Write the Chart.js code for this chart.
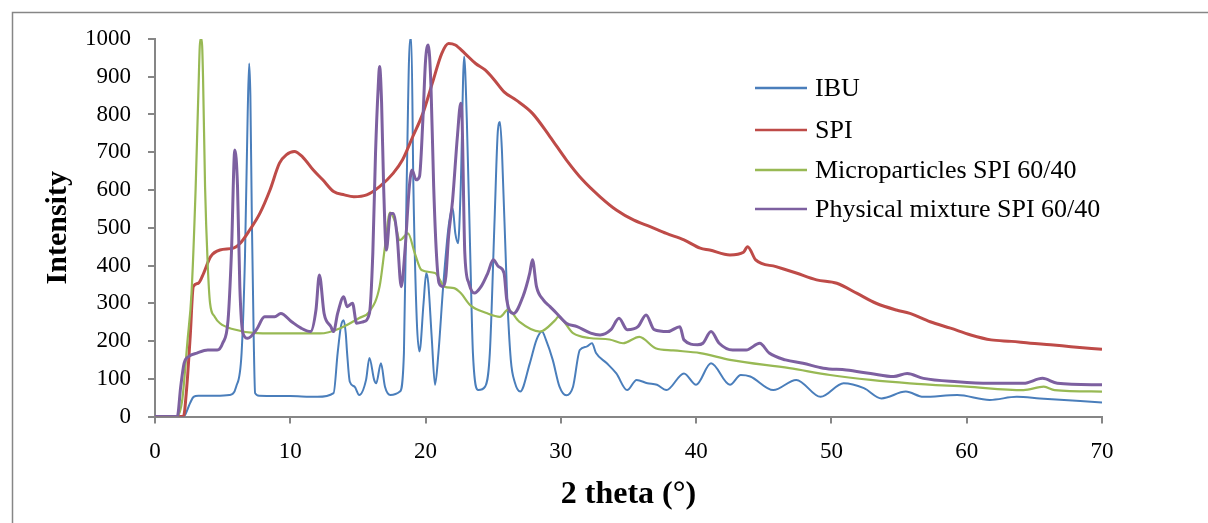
<!DOCTYPE html>
<html>
<head>
<meta charset="utf-8">
<title>XRD patterns</title>
<script src="https://cdn.jsdelivr.net/npm/chart.js@4.4.0/dist/chart.umd.min.js"></script>
<style>
	html, body { margin: 0; padding: 0; background: #fff; overflow: hidden; }
	#wrap { position: relative; width: 1208px; height: 523px; }
</style>
</head>
<body>
<div id="wrap"><canvas id="xrd"></canvas></div>
<script>
// Values (2 theta in degrees, intensity).
var ibuX = [ 0, 2.0, 2.2, 2.6, 2.85, 3.2, 4.5, 5.5, 6.0, 6.4, 6.65, 6.85, 6.96, 7.05, 7.16, 7.3, 7.4, 7.7, 10, 12, 13.2, 13.5, 13.75, 13.95, 14.1, 14.2, 14.4, 14.75, 15.1, 15.6, 15.85, 16.2, 16.35, 16.7, 17.0, 17.4, 18.1, 18.4, 18.6, 18.85, 18.95, 19.1, 19.35, 19.55, 19.85, 20.05, 20.2, 20.45, 20.7, 20.95, 21.3, 21.7, 22.0, 22.2, 22.4, 22.6, 22.85, 23.05, 23.3, 23.5, 23.9, 24.4, 24.75, 25.1, 25.35, 25.5, 25.65, 26.0, 26.3, 26.6, 27.0, 27.7, 28.2, 28.6, 28.9, 29.4, 29.9, 30.4, 30.9, 31.4, 31.9, 32.3, 32.6, 33.4, 34.1, 34.9, 35.6, 36.4, 37.1, 37.8, 39.1, 40.0, 41.1, 42.5, 43.3, 44.0, 45.7, 47.4, 49.2, 50.9, 52.4, 53.7, 55.5, 56.8, 59.3, 61.7, 63.7, 65.4, 70 ];
var ibuY = [ 0, 0, 3, 36, 52, 55, 55, 57, 79, 168, 421, 800, 935, 850, 520, 200, 62, 55, 54, 52, 62, 168, 240, 255, 220, 168, 92, 79, 57, 97, 155, 97, 88, 141, 79, 57, 66, 168, 609, 1000, 1000, 609, 255, 172, 300, 380, 353, 212, 84, 168, 344, 503, 552, 485, 459, 609, 953, 785, 433, 168, 70, 79, 168, 520, 760, 780, 700, 344, 150, 90, 66, 140, 203, 225, 203, 150, 79, 56, 79, 176, 185, 194, 168, 141, 114, 70, 97, 88, 84, 70, 114, 84, 141, 84, 110, 106, 70, 97, 52, 88, 75, 48, 66, 52, 57, 44, 52, 48, 37 ];

var spiX = [ 0, 2.1, 2.35, 2.6, 2.83, 3.2, 3.6, 4.1, 4.8, 5.8, 6.3, 7.0, 7.75, 8.5, 9.2, 9.7, 10.3, 10.9, 11.7, 12.4, 13.2, 14.0, 14.7, 15.65, 16.6, 17.6, 18.3, 19.05, 19.8, 20.5, 21.2, 21.7, 22.2, 22.9, 23.7, 24.4, 25.1, 25.8, 26.7, 27.9, 29.2, 30.4, 31.6, 32.9, 34.1, 35.4, 36.6, 37.8, 39.1, 40.3, 41.0, 42.5, 43.5, 43.8, 44.4, 45.9, 47.4, 48.9, 50.4, 51.9, 53.3, 54.8, 55.8, 57.3, 58.8, 60.3, 61.8, 63.3, 64.7, 66.2, 67.7, 70 ];
var spiY = [ 0, 0, 79, 211, 344, 353, 380, 423, 441, 446, 459, 494, 538, 600, 671, 693, 702, 688, 653, 627, 596, 587, 582, 587, 609, 644, 680, 741, 803, 883, 962, 988, 984, 962, 935, 918, 891, 860, 838, 803, 741, 680, 627, 582, 547, 520, 503, 485, 468, 446, 441, 428, 435, 450, 415, 397, 380, 362, 353, 326, 300, 282, 273, 251, 234, 216, 203, 199, 194, 190, 185, 178 ];

var microX = [ 0, 1.6, 2.0, 2.4, 2.7, 3.0, 3.2, 3.35, 3.45, 3.55, 3.7, 3.9, 4.07, 4.4, 4.8, 5.8, 7.5, 10, 12.2, 13.7, 15.1, 15.85, 16.6, 17.0, 17.37, 17.7, 18.1, 18.7, 19.2, 19.7, 20.7, 21.4, 22.1, 22.6, 23.3, 24.5, 25.5, 26.1, 26.9, 28.45, 29.6, 29.8, 30.9, 32.1, 33.6, 34.6, 35.8, 37.0, 38.3, 40.3, 42.5, 46.9, 49.9, 52.9, 55.8, 60, 64.2, 65.7, 66.5, 70 ];
var microY = [ 0, 0, 40, 200, 327, 600, 850, 1000, 1000, 900, 609, 400, 300, 265, 247, 231, 221, 220, 220, 234, 261, 278, 344, 450, 540, 520, 467, 485, 433, 388, 380, 344, 340, 327, 295, 274, 264, 283, 252, 225, 256, 264, 221, 208, 204, 194, 211, 181, 175, 168, 150, 128, 110, 97, 88, 79, 70, 79, 70, 66 ];

var mixX = [ 0, 1.65, 1.9, 2.15, 2.5, 3.1, 3.9, 4.6, 5.0, 5.4, 5.65, 5.9, 6.1, 6.27, 6.5, 6.85, 7.5, 8.1, 8.85, 9.3, 10.1, 10.8, 11.5, 11.9, 12.15, 12.5, 13.0, 13.2, 13.5, 13.95, 14.2, 14.6, 14.9, 15.4, 15.85, 16.1, 16.3, 16.5, 16.6, 16.75, 16.9, 17.1, 17.4, 17.6, 17.9, 18.2, 18.5, 18.8, 19.0, 19.3, 19.55, 19.8, 20.0, 20.2, 20.4, 20.6, 20.8, 21.0, 21.3, 21.5, 21.7, 22.0, 22.35, 22.6, 22.7, 22.9, 23.2, 23.6, 24.1, 24.6, 25.0, 25.4, 25.8, 26.0, 26.5, 27.2, 27.7, 27.9, 28.2, 28.7, 29.2, 29.7, 30.4, 31.2, 32.2, 32.9, 33.7, 34.3, 34.9, 35.7, 36.3, 36.9, 37.9, 38.8, 39.1, 40.1, 40.5, 41.1, 41.7, 42.7, 43.7, 44.7, 45.4, 46.6, 47.9, 49.4, 51.1, 52.9, 54.6, 55.6, 56.8, 59.3, 61.7, 64.2, 65.6, 66.7, 70 ];
var mixY = [ 0, 0, 79, 141, 159, 168, 176, 176, 194, 255, 433, 706, 609, 344, 221, 207, 230, 264, 264, 273, 251, 234, 225, 283, 375, 273, 238, 225, 273, 317, 291, 300, 247, 251, 273, 432, 697, 874, 927, 830, 609, 441, 538, 538, 477, 344, 450, 609, 653, 627, 636, 785, 944, 984, 874, 609, 433, 353, 344, 371, 477, 574, 741, 830, 785, 433, 353, 327, 344, 380, 415, 397, 380, 309, 273, 318, 380, 415, 344, 309, 291, 273, 247, 238, 221, 216, 230, 260, 230, 238, 269, 230, 225, 238, 203, 190, 194, 225, 194, 176, 176, 194, 168, 150, 141, 128, 123, 114, 106, 114, 101, 92, 88, 88, 101, 88, 84 ];

var seriesNames = [ 'IBU', 'SPI', 'Microparticles SPI 60/40', 'Physical mixture SPI 60/40' ];
var xTicks = [ 0, 10, 20, 30, 40, 50, 60, 70 ];
var yTicks = [ 0, 100, 200, 300, 400, 500, 600, 700, 800, 900, 1000 ];

( function () {
	'use strict';

	var SERIF = '"Liberation Serif", "Times New Roman", serif';
	var AXIS  = '#868686';
	var COLORS = [ '#4a7ebb', '#be4b48', '#98b954', '#7d60a0' ];

	function points( xs, ys ) {
		var out = [];
		for ( var i = 0; i < xs.length; i++ ) {
			out.push( { x: xs[ i ], y: ys[ i ] } );
		}
		return out;
	}

	// Excel-style frame, only its top and left edges are inside the picture.
	var framePlugin = {
		id: 'frame',
		beforeDraw: function ( chart ) {
			var ctx = chart.ctx;
			ctx.save();
			ctx.strokeStyle = AXIS;
			ctx.lineWidth = 1.5;
			ctx.strokeRect( 12.5, 12.5, 1400, 700 );
			ctx.restore();
		},
	};

	// Legend drawn inside the plot area, as in the reference.
	var legendPlugin = {
		id: 'insideLegend',
		afterDraw: function ( chart ) {
			var ctx = chart.ctx;
			var rows = [ 88, 130, 170, 209 ];
			ctx.save();
			ctx.font = '26px ' + SERIF;
			ctx.textBaseline = 'middle';
			ctx.fillStyle = '#000';
			for ( var i = 0; i < seriesNames.length; i++ ) {
				ctx.strokeStyle = COLORS[ i ];
				ctx.lineWidth = 2.5;
				ctx.beginPath();
				ctx.moveTo( 755, rows[ i ] );
				ctx.lineTo( 807, rows[ i ] );
				ctx.stroke();
				ctx.fillText( seriesNames[ i ], 815, rows[ i ] + 1 );
			}
			ctx.restore();
		},
	};

	var sets = [
		{ xs: ibuX, ys: ibuY, width: 2, order: 4 },
		{ xs: spiX, ys: spiY, width: 3, order: 3 },
		{ xs: microX, ys: microY, width: 2.2, order: 2 },
		{ xs: mixX, ys: mixY, width: 3, order: 1 },
	];

	var datasets = sets.map( function ( s, i ) {
		return {
			label:       seriesNames[ i ],
			data:        points( s.xs, s.ys ),
			borderColor: COLORS[ i ],
			borderWidth: s.width,
			showLine:    true,
			pointRadius: 0,
			cubicInterpolationMode: 'monotone',
			order:       s.order,
		};
	} );

	new Chart( document.getElementById( 'xrd' ), {
		type: 'scatter',
		data: { datasets: datasets },
		options: {
			responsive:          true,
			maintainAspectRatio: false,
			animation:           false,
			events:              [],
			layout:              { padding: { left: 0, top: 39, right: 106, bottom: 0 } },
			plugins:             {
				legend:  { display: false },
				tooltip: { enabled: false },
			},
			scales: {
				x: {
					type: 'linear',
					min:  0,
					max:  70,
					afterFit: function ( scale ) { scale.height = 106.5; },
					afterBuildTicks: function ( scale ) {
						scale.ticks = xTicks.map( function ( v ) { return { value: v }; } );
					},
					border: { color: AXIS, width: 2 },
					grid:   { drawOnChartArea: false, drawTicks: true, tickLength: 7, color: AXIS, lineWidth: 2 },
					ticks:  {
						color: '#000',
						font: { family: SERIF, size: 23 },
						padding: 15,
						maxRotation: 0,
						callback: function ( v ) { return String( v ); },
					},
					title:  {
						display: true,
						text:    '2 theta (°)',
						color:   '#000',
						font:    { family: SERIF, size: 32, weight: 'bold' },
						padding: { top: 0, bottom: 9 },
					},
				},
				y: {
					type: 'linear',
					min:  0,
					max:  1000,
					afterFit: function ( scale ) { scale.width = 155; },
					afterBuildTicks: function ( scale ) {
						scale.ticks = yTicks.map( function ( v ) { return { value: v }; } );
					},
					border: { color: AXIS, width: 2 },
					grid:   { drawOnChartArea: false, drawTicks: true, tickLength: 7, color: AXIS, lineWidth: 2 },
					ticks:  {
						color: '#000',
						font: { family: SERIF, size: 23 },
						padding: 17,
						callback: function ( v ) { return String( v ); },
					},
					title:  {
						display: true,
						text:    'Intensity',
						color:   '#000',
						font:    { family: SERIF, size: 30, weight: 'bold' },
						padding: { top: 40, bottom: 0 },
					},
				},
			},
		},
		plugins: [ framePlugin, legendPlugin ],
	} );
} )();
</script>
</body>
</html>
